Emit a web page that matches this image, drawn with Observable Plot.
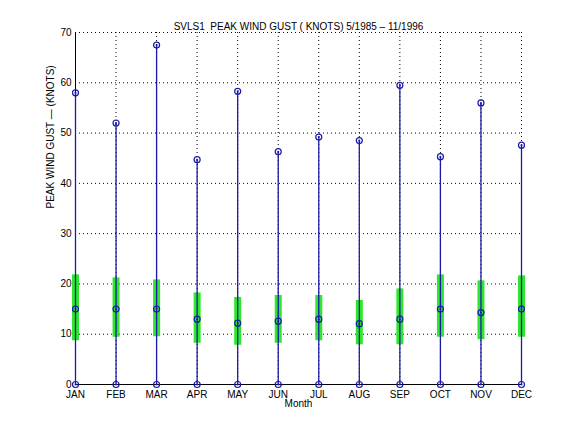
<!DOCTYPE html>
<html><head><meta charset="utf-8">
<script src="https://cdn.jsdelivr.net/npm/d3@7"></script>
<script src="https://cdn.jsdelivr.net/npm/@observablehq/plot@0.6"></script>
<style>
body{margin:0;background:#fff;}
svg{font-family:"Liberation Sans",Arial,sans-serif;}
</style>
</head><body>
<div id="chart"></div>
<script>
const months = ["JAN","FEB","MAR","APR","MAY","JUN","JUL","AUG","SEP","OCT","NOV","DEC"];
const maxGust = [58.0, 52.0, 67.5, 44.7, 58.3, 46.3, 49.2, 48.5, 59.5, 45.3, 56.0, 47.6];
const upperQ  = [21.8, 21.2, 20.8, 18.2, 17.3, 17.7, 17.7, 16.7, 19.0, 21.8, 20.6, 21.6];
const median  = [15.0, 15.0, 15.0, 13.0, 12.2, 12.6, 13.0, 12.1, 13.0, 15.0, 14.3, 15.0];
const lowerQ  = [8.7, 9.4, 9.5, 8.2, 7.8, 8.2, 8.7, 7.9, 7.9, 9.4, 8.9, 9.4];
const minGust = [0, 0, 0, 0, 0, 0, 0, 0, 0, 0, 0, 0];
const yTicks = [0,10,20,30,40,50,60,70];
const title = "SVLS1  PEAK WIND GUST ( KNOTS) 5/1985 \u2013 11/1996";

const data = months.map((m,i)=>({m:i+1, name:m, max:maxGust[i], q3:upperQ[i], med:median[i], q1:lowerQ[i], min:minGust[i]}));
const navy = "#1a1aa8";

const chart = Plot.plot({
  width: 576, height: 432,
  marginTop: 32, marginBottom: 48, marginLeft: 75, marginRight: 55,
  style: {fontSize: "10px", fontFamily: "Liberation Sans, Arial, sans-serif", color:"#000", background:"#fff"},
  x: {domain:[1,12], ticks: d3.range(1,13), tickFormat: d=>months[d-1], label:null, tickSize:0, tickPadding:6},
  y: {domain:[0,70], ticks: yTicks, label:null, tickSize:0, tickPadding:4},
  marks: [
    Plot.gridX(d3.range(1,13), {stroke:"#000", strokeOpacity:1, strokeDasharray:"1,3"}),
    Plot.gridY(yTicks, {stroke:"#000", strokeOpacity:1, strokeDasharray:"1,3"}),
    Plot.ruleX([1], {stroke:"#000", strokeWidth:1}),
    Plot.ruleY([0], {stroke:"#000", strokeWidth:1}),
    Plot.ruleX(data, {x:"m", y1:"q1", y2:"q3", stroke:"#2ee62e", strokeWidth:7}),
    Plot.ruleX(data, {x:"m", y1:"min", y2:"max", stroke:navy, strokeWidth:1.3}),
    Plot.dot(data, {x:"m", y:"max", r:3, stroke:navy, strokeWidth:1.2, fill:"none"}),
    Plot.dot(data, {x:"m", y:"med", r:3, stroke:navy, strokeWidth:1.2, fill:"none"}),
    Plot.dot(data, {x:"m", y:"min", r:3, stroke:navy, strokeWidth:1.2, fill:"none"}),
    Plot.dot(data, {x:"m", y:"max", r:1, fill:navy}),
    Plot.dot(data, {x:"m", y:"med", r:1, fill:navy}),
    Plot.dot(data, {x:"m", y:"min", r:1, fill:navy}),
    Plot.axisX({ticks: d3.range(1,13), tickFormat: d=>months[d-1], tickSize:0, tickPadding:6, label:null, fontSize:10}),
    Plot.axisY({ticks: yTicks, tickSize:0, tickPadding:4, label:null, fontSize:10}),
    Plot.text(["Month"], {frameAnchor:"bottom", dy:22, fontSize:10, fill:"#000"}),
    Plot.text(["PEAK WIND GUST \u2014 (KNOTS)"], {frameAnchor:"left", dx:-25, rotate:-90, fontSize:10, fill:"#000"}),
    Plot.text([title], {frameAnchor:"top", dy:-10, fontSize:10, fill:"#000"})
  ]
});
document.getElementById("chart").appendChild(chart);
</script>
</body></html>
